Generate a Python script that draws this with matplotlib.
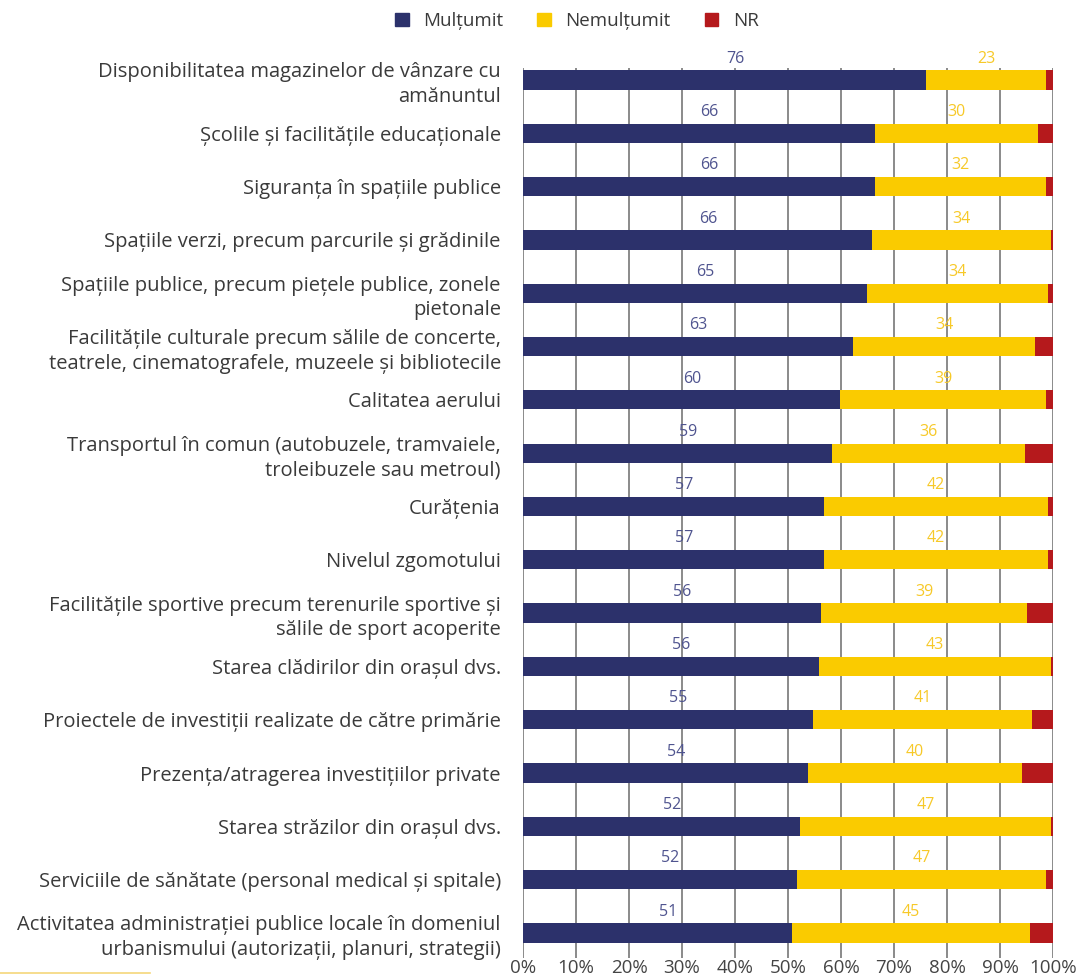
import matplotlib
matplotlib.use('Agg')
import matplotlib.pyplot as plt
import numpy as np
from matplotlib.patches import Patch
from matplotlib.lines import Line2D

# categories, top to bottom
categories = [
    'Disponibilitatea magazinelor de vânzare cu\namănuntul',
    'Școlile și facilitățile educaționale',
    'Siguranța în spațiile publice',
    'Spațiile verzi, precum parcurile și grădinile',
    'Spațiile publice, precum piețele publice, zonele\npietonale',
    'Facilitățile culturale precum sălile de concerte,\nteatrele, cinematografele, muzeele și bibliotecile',
    'Calitatea aerului',
    'Transportul în comun (autobuzele, tramvaiele,\ntroleibuzele sau metroul)',
    'Curățenia',
    'Nivelul zgomotului',
    'Facilitățile sportive precum terenurile sportive și\nsălile de sport acoperite',
    'Starea clădirilor din orașul dvs.',
    'Proiectele de investiții realizate de către primărie',
    'Prezența/atragerea investițiilor private',
    'Starea străzilor din orașul dvs.',
    'Serviciile de sănătate (personal medical și spitale)',
    'Activitatea administrației publice locale în domeniul\nurbanismului (autorizații, planuri, strategii)',
]

# shares as drawn (%)
multumit = [76.0, 66.4, 66.4, 65.8, 64.9, 62.3, 59.8, 58.3, 56.8, 56.8, 56.2, 55.8, 54.7, 53.8, 52.3, 51.7, 50.8]
nemultumit = [22.7, 30.8, 32.3, 33.8, 34.2, 34.3, 38.9, 36.4, 42.3, 42.3, 38.9, 43.8, 41.3, 40.4, 47.3, 47.0, 44.9]
nr = [1.3, 2.8, 1.3, 0.4, 0.9, 3.4, 1.3, 5.3, 0.9, 0.9, 4.9, 0.4, 4.0, 5.8, 0.4, 1.3, 4.3]

# labels as printed
lab_mult = [76, 66, 66, 66, 65, 63, 60, 59, 57, 57, 56, 56, 55, 54, 52, 52, 51]
lab_nem = [23, 30, 32, 34, 34, 34, 39, 36, 42, 42, 39, 43, 41, 40, 47, 47, 45]

c_navy = '#2c316b'
c_yellow = '#facb00'
c_red = '#b5191c'
c_navy_txt = '#4f548f'
c_yellow_txt = '#f7c928'
c_text = '#3a3a3a'

plt.rcParams['font.family'] = ['Open Sans', 'DejaVu Sans']

fig = plt.figure(figsize=(10.81, 9.76), dpi=100)
ax = fig.add_axes([523 / 1081, 1 - 958 / 976, 530 / 1081, 890 / 976])

y = np.arange(len(categories))
h = 0.36
mult = np.array(multumit)
nem = np.array(nemultumit)
ax.barh(y, mult, height=h, color=c_navy, zorder=3)
ax.barh(y, nem, left=mult, height=h, color=c_yellow, zorder=3)
ax.barh(y, nr, left=mult + nem, height=h, color=c_red, zorder=3)

for i in range(len(categories)):
    ax.text(mult[i] / 2 + 2, y[i] - 0.4, str(lab_mult[i]), color=c_navy_txt,
            fontsize=11.5, ha='center', va='center')
    ax.text(mult[i] + nem[i] / 2, y[i] - 0.4, str(lab_nem[i]), color=c_yellow_txt,
            fontsize=11.5, ha='center', va='center')

ax.set_xlim(0, 100)
ax.set_ylim(16.47, -0.225)
ax.set_xticks(np.arange(0, 101, 10))
ax.set_xticklabels([f'{v}%' for v in range(0, 101, 10)], fontsize=13.5, color='#444444')
ax.set_yticks(y)
ax.set_yticklabels(categories, fontsize=14.5, color=c_text, linespacing=1.3)
ax.tick_params(axis='y', length=0, pad=16)
ax.tick_params(axis='x', length=0, pad=1)
ax.grid(axis='x', color='#8a8a8a', linewidth=1.4, zorder=0)
for s in ax.spines.values():
    s.set_visible(False)

handles = [Patch(color=c_navy), Patch(color=c_yellow), Patch(color=c_red)]
fig.legend(handles, ['Mulțumit', 'Nemulțumit', 'NR'], loc='center',
           bbox_to_anchor=(577 / 1081, 1 - 21 / 976), ncol=3, frameon=False,
           fontsize=13.5, handlelength=0.7, handleheight=0.7, columnspacing=1.8,
           handletextpad=0.8, labelcolor=c_text)

# thin decorative rule at bottom left
fig.add_artist(Line2D([0, 150 / 1081], [1 - 973 / 976] * 2, color='#f5d77a', linewidth=1.2))

fig.savefig('out.png', dpi=100)
